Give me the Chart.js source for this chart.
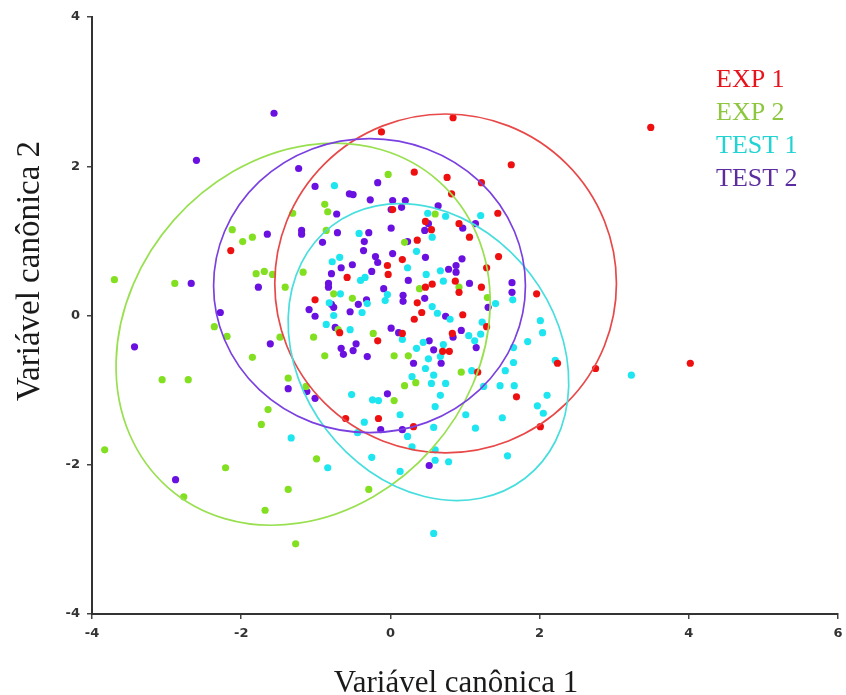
<!DOCTYPE html>
<html lang="pt">
<head>
<meta charset="utf-8">
<title>Variáveis canônicas</title>
<script src="https://cdn.jsdelivr.net/npm/chart.js@4.4.1/dist/chart.umd.min.js"></script>
<style>
  html, body { margin: 0; padding: 0; background: #fff; }
  #grafico { display: block; }
</style>
</head>
<body>
<canvas id="grafico" width="846" height="695"></canvas>
<script>
// grupos e cores
const grupos = ['EXP 1', 'EXP 2', 'TEST 1', 'TEST 2'];
const corPonto = ['#ee1010', '#82e020', '#1ee6f0', '#6a10e0'];
const corElipse = ['#e84848', '#98e050', '#48dede', '#7a40e0'];
const corLegenda = ['#e8141c', '#8dc63f', '#22d3d3', '#5b2d9e'];

// escores canônicos [var1, var2] de cada grupo
const exp1Pontos = [
  [-0.12, 2.46], [0.84, 2.65], [3.49, 2.52], [1.62, 2.02], [0.32, 1.92],
  [0.76, 1.85], [1.22, 1.78], [0.82, 1.63], [1.44, 1.37], [0.03, 1.42],
  [0.47, 1.26], [0.55, 1.15], [0.92, 1.23], [1.06, 1.05], [0.36, 1.01],
  [1.45, 0.79], [1.29, 0.64], [0.16, 0.75], [-0.04, 0.67], [-0.03, 0.55],
  [-0.58, 0.51], [0.87, 0.46], [0.56, 0.42], [0.47, 0.38], [1.22, 0.38],
  [0.92, 0.31], [1.96, 0.29], [-1.01, 0.21], [0.36, 0.17], [0.42, 0.04],
  [0.32, -0.05], [0.97, 0.01], [1.29, -0.15], [-0.68, -0.23], [0.16, -0.24],
  [-0.17, -0.34], [0.83, -0.24], [0.70, -0.48], [0.79, -0.48], [1.17, -0.76],
  [1.69, -1.09], [-0.60, -1.38], [-0.16, -1.38], [0.31, -1.49], [2.01, -1.49],
  [2.24, -0.64], [2.75, -0.71], [4.02, -0.64], [-2.14, 0.87]
];
const exp2Pontos = [
  [-3.70, 0.48], [-2.89, 0.43], [-2.12, 1.15], [-1.98, 0.99], [-1.85, 1.05],
  [-1.80, 0.56], [-1.69, 0.59], [-1.58, 0.55], [-1.41, 0.38], [-1.17, 0.58],
  [-1.31, 1.37], [-0.88, 1.49], [-0.84, 1.39], [-0.86, 1.14], [-0.03, 1.89],
  [0.60, 1.36], [0.19, 0.98], [-0.76, 0.29], [-0.51, 0.23], [0.39, 0.36],
  [0.92, 0.38], [1.30, 0.24], [-2.36, -0.15], [-2.19, -0.28], [-1.48, -0.29],
  [-1.03, -0.29], [-0.70, -0.19], [-0.23, -0.24], [-1.85, -0.56], [-0.88, -0.54],
  [0.05, -0.54], [0.24, -0.54], [-3.06, -0.86], [-2.71, -0.86], [-1.37, -0.84],
  [-1.13, -0.95], [0.19, -0.94], [0.34, -0.90], [0.95, -0.76], [0.05, -1.14],
  [-1.64, -1.26], [-1.73, -1.46], [-3.83, -1.80], [-2.21, -2.04], [-0.99, -1.92],
  [-1.37, -2.33], [-0.29, -2.33], [-2.77, -2.43], [-1.68, -2.61], [-1.27, -3.06]
];
const test1Pontos = [
  [-0.75, 1.74], [-0.42, 1.10], [-0.68, 0.78], [-0.78, 0.72], [0.35, 0.86],
  [0.23, 0.64], [0.48, 0.55], [0.67, 0.60], [0.74, 1.33], [1.21, 1.34],
  [0.50, 1.37], [0.56, 1.05], [-0.40, 0.47], [-0.34, 0.51], [0.71, 0.46],
  [-0.82, 0.17], [-0.67, 0.29], [-0.76, 0.00], [-0.38, 0.04], [-0.31, 0.16],
  [-0.07, 0.20], [-0.04, 0.28], [-0.86, -0.12], [-0.54, -0.19], [0.16, -0.32],
  [0.35, -0.44], [0.44, -0.36], [0.56, 0.12], [0.63, 0.03], [0.80, -0.05],
  [1.05, -0.27], [1.13, -0.34], [1.21, -0.25], [1.23, -0.09], [0.51, -0.58],
  [0.67, -0.55], [0.47, -0.71], [0.58, -0.80], [0.29, -0.82], [0.55, -0.91],
  [0.74, -0.91], [0.67, -1.07], [0.60, -1.22], [1.09, -0.74], [1.25, -0.95],
  [1.41, 0.16], [1.64, 0.21], [1.65, -0.43], [1.65, -0.63], [1.54, -0.74],
  [1.84, -0.35], [2.01, -0.07], [2.04, -0.23], [1.47, -0.94], [1.66, -0.94],
  [1.50, -1.37], [1.97, -1.21], [2.10, -1.07], [2.05, -1.31], [1.01, -1.33],
  [0.58, -1.50], [1.14, -1.51], [0.13, -1.33], [-0.52, -1.06], [-0.24, -1.13],
  [-0.16, -1.14], [-0.35, -1.43], [-0.44, -1.57], [0.23, -1.62], [-1.33, -1.64],
  [-0.25, -1.90], [0.29, -1.76], [0.60, -1.80], [0.60, -1.94], [0.78, -1.96],
  [1.57, -1.88], [-0.84, -2.04], [0.13, -2.09], [0.58, -2.92], [2.21, -0.60],
  [3.23, -0.80], [0.71, -0.39]
];
const test2Pontos = [
  [-1.56, 2.71], [-2.60, 2.08], [-1.23, 1.97], [-1.01, 1.73], [-0.17, 1.78],
  [-0.55, 1.63], [-0.50, 1.62], [-0.27, 1.55], [0.03, 1.54], [0.20, 1.54],
  [0.01, 1.42], [0.15, 1.45], [0.64, 1.47], [-0.72, 1.36], [-1.65, 1.09],
  [-1.19, 1.14], [-1.19, 1.09], [-0.71, 1.11], [-0.29, 1.11], [0.01, 1.17],
  [0.46, 1.14], [0.51, 1.23], [0.97, 1.17], [1.14, 1.23], [-0.91, 0.98],
  [-0.35, 0.99], [0.23, 0.99], [-0.36, 0.87], [0.03, 0.83], [-0.20, 0.79],
  [-0.17, 0.71], [-0.51, 0.68], [-0.66, 0.64], [-0.79, 0.56], [-0.25, 0.59],
  [0.47, 0.78], [0.96, 0.76], [0.78, 0.62], [0.88, 0.67], [0.88, 0.58],
  [-2.67, 0.43], [-1.77, 0.38], [-0.83, 0.43], [-0.83, 0.38], [0.24, 0.47],
  [-0.09, 0.36], [1.06, 0.43], [1.63, 0.44], [1.63, 0.31], [0.17, 0.27],
  [0.17, 0.19], [0.46, 0.23], [-0.32, 0.21], [-0.43, 0.15], [-0.54, 0.05],
  [-0.79, 0.15], [-0.76, 0.11], [-1.09, 0.08], [-1.01, -0.01], [1.31, 0.11],
  [0.74, -0.01], [-2.28, 0.04], [0.01, -0.17], [0.11, -0.23], [-0.74, -0.16],
  [0.95, -0.20], [0.84, -0.29], [0.52, -0.34], [0.58, -0.46], [1.15, -0.43],
  [-1.61, -0.38], [-0.46, -0.38], [-0.66, -0.44], [-0.50, -0.47], [-0.31, -0.55],
  [-0.63, -0.52], [0.31, -0.64], [0.68, -0.64], [-3.43, -0.42], [-1.37, -0.98],
  [-1.12, -1.02], [-1.01, -1.11], [-0.04, -1.05], [-0.13, -1.53], [0.16, -1.53],
  [0.52, -2.01], [-2.88, -2.20]
];
const pontosPorGrupo = [exp1Pontos, exp2Pontos, test1Pontos, test2Pontos];

// elipses de confiança: centro, semi-eixos e inclinação (graus)
const elipseCx = [0.74, -1.17, 0.51, -0.28];
const elipseCy = [0.43, -0.25, -0.49, 0.40];
const elipseRx = [2.29, 2.74, 2.13, 2.09];
const elipseRy = [2.27, 2.31, 1.72, 1.97];
const elipseAngulo = [0, 48.5, -52.7, 0];

// eixos
const ticksX = [-4, -2, 0, 2, 4, 6];
const ticksY = [-4, -2, 0, 2, 4];
const tituloX = 'Variável canônica 1';
const tituloY = 'Variável canônica 2';

const fonteSerif = '"Liberation Serif", "Times New Roman", serif';

// desenha as elipses na escala dos eixos
const elipsesPlugin = {
  id: 'elipses',
  afterDatasetsDraw(chart) {
    const ctx = chart.ctx;
    const sx = chart.scales.x;
    const sy = chart.scales.y;
    const kx = sx.getPixelForValue(1) - sx.getPixelForValue(0);
    const ky = sy.getPixelForValue(0) - sy.getPixelForValue(1);
    grupos.forEach((g, i) => {
      ctx.save();
      ctx.beginPath();
      ctx.save();
      ctx.translate(sx.getPixelForValue(elipseCx[i]), sy.getPixelForValue(elipseCy[i]));
      ctx.scale(kx, -ky);
      ctx.rotate(elipseAngulo[i] * Math.PI / 180);
      ctx.ellipse(0, 0, elipseRx[i], elipseRy[i], 0, 0, Math.PI * 2);
      ctx.restore();
      ctx.strokeStyle = corElipse[i];
      ctx.lineWidth = 1.7;
      ctx.stroke();
      ctx.restore();
    });
  }
};

// títulos dos eixos e legenda em texto colorido
const textosPlugin = {
  id: 'textos',
  afterDraw(chart) {
    const ctx = chart.ctx;
    ctx.save();
    ctx.fillStyle = '#1a1a1a';
    ctx.textAlign = 'center';
    ctx.textBaseline = 'alphabetic';
    ctx.font = '31px ' + fonteSerif;
    ctx.fillText(tituloX, 456, 692);

    ctx.save();
    ctx.font = '33px ' + fonteSerif;
    ctx.translate(39, 271);
    ctx.rotate(-Math.PI / 2);
    ctx.fillText(tituloY, 0, 0);
    ctx.restore();

    ctx.font = '26px ' + fonteSerif;
    ctx.textAlign = 'left';
    grupos.forEach((g, i) => {
      ctx.fillStyle = corLegenda[i];
      ctx.fillText(g, 716, 87 + i * 33);
    });
    ctx.restore();
  }
};

const datasets = grupos.map((g, i) => ({
  label: g,
  data: pontosPorGrupo[i].map(p => ({ x: p[0], y: p[1] })),
  backgroundColor: corPonto[i],
  borderWidth: 0,
  pointRadius: 3.6
}));

const fonteTicks = { family: '"DejaVu Sans", sans-serif', size: 13, weight: 'bold' };

new Chart(document.getElementById('grafico'), {
  type: 'scatter',
  data: { datasets: datasets },
  options: {
    responsive: false,
    animation: false,
    layout: { padding: { top: 17, right: 8, left: 0, bottom: 0 } },
    plugins: {
      legend: { display: false },
      tooltip: { enabled: false }
    },
    scales: {
      x: {
        min: ticksX[0],
        max: ticksX[ticksX.length - 1],
        afterBuildTicks: s => { s.ticks = ticksX.map(v => ({ value: v })); },
        // área do gráfico fixa: 92 px à esquerda, 81 px abaixo, 8 px à direita
        afterFit: s => { s.height = 81; s.paddingLeft = 0; s.paddingRight = 0; },
        ticks: { font: fonteTicks, color: '#333', padding: 7 },
        grid: { drawOnChartArea: false, drawTicks: true, tickLength: 5, color: '#444', lineWidth: 1.5 },
        border: { display: true, color: '#333', width: 2 }
      },
      y: {
        min: ticksY[0],
        max: ticksY[ticksY.length - 1],
        afterBuildTicks: s => { s.ticks = ticksY.map(v => ({ value: v })); },
        afterFit: s => { s.width = 92; s.paddingTop = 0; s.paddingBottom = 0; },
        ticks: { font: fonteTicks, color: '#333', padding: 7 },
        grid: { drawOnChartArea: false, drawTicks: true, tickLength: 5, color: '#444', lineWidth: 1.5 },
        border: { display: true, color: '#333', width: 2 }
      }
    }
  },
  plugins: [elipsesPlugin, textosPlugin]
});
</script>
</body>
</html>
